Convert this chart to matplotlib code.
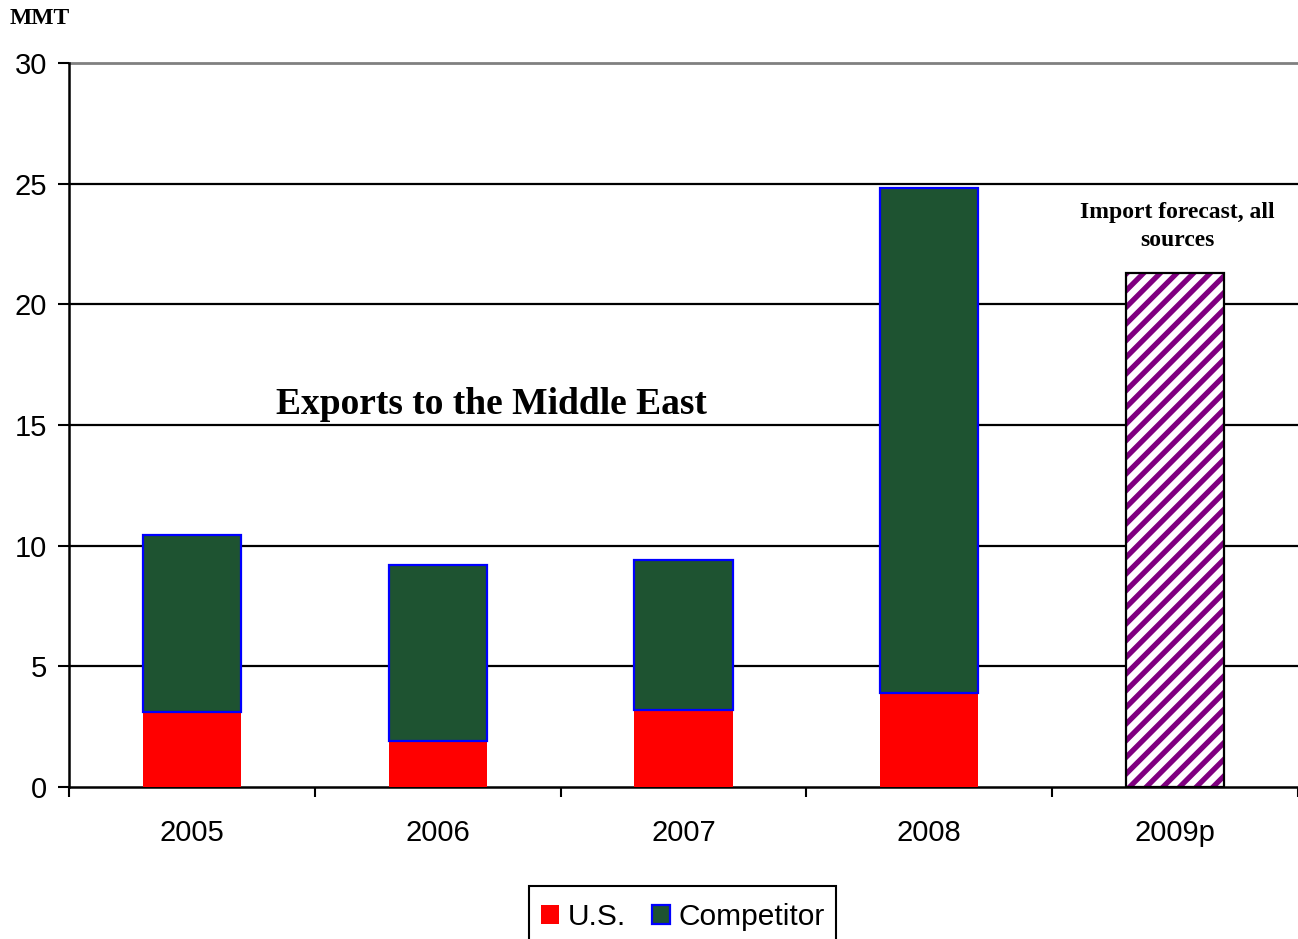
import matplotlib
matplotlib.use("Agg")
import matplotlib.pyplot as plt
from matplotlib.patches import Patch, Rectangle
import numpy as np

categories = ["2005", "2006", "2007", "2008", "2009p"]
us_values = [3.1, 1.9, 3.2, 3.9, None]
competitor_totals = [10.45, 9.2, 9.4, 24.8, None]
forecast_value = 21.3
yticks = [0, 5, 10, 15, 20, 25, 30]

plt.rcParams['font.family'] = ['Liberation Sans', 'DejaVu Sans']

fig = plt.figure(figsize=(12.98, 9.39), dpi=100)
ax = fig.add_axes([69/1298, 1-787/939, 1229/1298, (787-63)/939])

x = np.arange(len(categories))
width = 0.4
green = "#1e5331"

for i in range(4):
    ax.bar(x[i], us_values[i], width=width, color="#ff0000", edgecolor="none", zorder=3)
    comp = competitor_totals[i] - us_values[i]
    ax.bar(x[i], comp, width=width, bottom=us_values[i], color=green,
           edgecolor="#0000ff", linewidth=1.6, zorder=3)

plt.rcParams['hatch.linewidth'] = 3.8
plt.rcParams['hatch.color'] = "#800080"
ax.bar(x[4], forecast_value, width=width, color="white", edgecolor="#800080",
       hatch="//", linewidth=0, zorder=3)
ax.bar(x[4], forecast_value, width=width, color="none", edgecolor="black",
       linewidth=1.6, zorder=4)

ax.set_xlim(-0.5, 4.5)
ax.set_ylim(0, 30)
ax.set_yticks(yticks)
ax.set_yticklabels([str(v) for v in yticks], fontsize=21)
ax.set_xticks(x)
ax.set_xticklabels(categories, fontsize=21)
ax.set_xticks(np.arange(-0.5, 4.6, 1.0), minor=True)
ax.tick_params(axis='x', which='major', length=0, pad=23)
ax.tick_params(axis='x', which='minor', length=7, width=1.5, direction='out')
ax.tick_params(axis='y', length=8, width=1.5, direction='out', pad=8)

for v in yticks[1:-1]:
    ax.axhline(v, color="black", linewidth=1.6, zorder=1)
ax.axhline(30, color="#808080", linewidth=2, zorder=1, clip_on=False)

for s in ["top", "right"]:
    ax.spines[s].set_visible(False)
ax.spines["left"].set_linewidth(1.8)
ax.spines["bottom"].set_linewidth(1.8)

ax.text(1.22, 15.85, "Exports to the Middle East", fontsize=27, fontweight="bold",
        family="Liberation Serif", ha="center", va="center")
ax.text(4.01, 23.23, "Import forecast, all\nsources", fontsize=17, fontweight="bold",
        family="Liberation Serif", ha="center", va="center", linespacing=1.39)
fig.text(10/1298, 1-18/939, "MMT", fontsize=17, fontweight="bold",
         family="Liberation Serif", ha="left", va="center")

handles = [Patch(facecolor="#ff0000", edgecolor="none"),
           Patch(facecolor=green, edgecolor="#0000ff", linewidth=1.6)]
leg = fig.legend(handles, ["U.S.", "Competitor"], loc="upper center",
                 bbox_to_anchor=(683/1298, 1-893/939), ncol=2, fontsize=21.5,
                 frameon=False,
                 handlelength=0.6, handleheight=0.6, handletextpad=0.3,
                 columnspacing=0.85, borderpad=0.35, borderaxespad=0)
# legend frame (clipped by bottom of figure, as in the original)
fig.patches.append(Rectangle((529/1298, -0.02), (836-529)/1298, 0.02 + (939-886)/939,
                             transform=fig.transFigure, facecolor="none",
                             edgecolor="black", linewidth=1.5))

fig.savefig("out.png", dpi=100)
